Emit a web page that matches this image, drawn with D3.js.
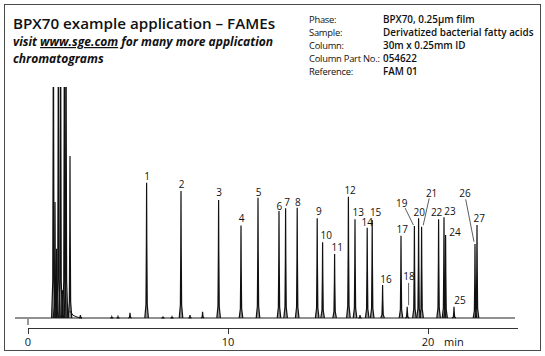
<!DOCTYPE html>
<html>
<head>
<meta charset="utf-8">
<script src="https://cdn.jsdelivr.net/npm/d3@7"></script>
<style>
  html, body { margin: 0; padding: 0; background: #fff; }
  svg { display: block; }
  text { font-family: "Open Sans", "DejaVu Sans", sans-serif; fill: #111; }
</style>
</head>
<body>
<svg id="chart" width="545" height="356"></svg>
<script>
// ---------------- DATA ----------------
const titleText = "BPX70 example application \u2013 FAMEs";
const infoLabels = ["Phase:", "Sample:", "Column:", "Column Part No.:", "Reference:"];
const infoValues = ["BPX70, 0.25\u00b5m film", "Derivatized bacterial fatty acids", "30m x 0.25mm ID", "054622", "FAM 01"];

// numbered peaks: retention time (min) and response (arbitrary units)
const peakNumbers = [1,2,3,4,5,6,7,8,9,10,11,12,13,14,15,16,17,18,19,20,21,22,23,24,25,26,27];
const peakTimes   = [5.93,7.65,9.53,10.65,11.50,12.55,12.88,13.46,14.46,14.73,15.33,16.02,16.35,16.96,17.21,17.73,18.65,18.96,19.32,19.53,19.68,20.53,20.80,20.88,21.30,22.35,22.45];
const peakHeights = [58.6,55.0,51.1,40.0,52.1,46.3,47.5,47.7,43.2,32.8,27.7,52.5,42.7,39.1,42.4,14.3,35.6,4.9,39.8,43.2,39.5,42.7,43.6,35.9,4.9,32.0,40.3];

// solvent front peaks (several off scale)
const solventTimes   = [1.27,1.35,1.43,1.52,1.63,1.72,1.82,1.90,2.10];
const solventHeights = [160,50.2,30,160,160,12,160,160,70.1];

// minor unlabelled peaks
const minorTimes   = [2.62,4.19,4.50,5.10,6.75,7.20,8.10,8.73,16.60];
const minorHeights = [1.3,0.5,0.6,2.3,0.4,0.5,1.3,2.7,1.3];

// axis
const axisTicks = [0, 10, 20];
const axisUnit = "min";
const traceStart = -0.65, traceEnd = 24.35, axisEnd = 24.5;

// ---------------- LAYOUT ----------------
const svg = d3.select("#chart");
const x = d3.scaleLinear().domain([0, 20]).range([28, 428]);
const y = d3.scaleLinear().domain([0, 100]).range([318, 87]);

// label offsets (px) relative to peak apex; leader = [x1,y1,x2,y2] offsets
const labelLayout = {
  1:{dx:0.6,dy:-3},2:{dx:0.7,dy:-3},3:{dx:0.6,dy:-4},4:{dx:0.7,dy:-4},5:{dx:0.7,dy:-1.5},
  6:{dx:0.3,dy:-1.5},7:{dx:1.6,dy:-2.5},8:{dx:0.7,dy:-2},9:{dx:1.7,dy:-3},10:{dx:3.6,dy:-3.3},
  11:{dx:2.6,dy:-3},12:{dx:1.7,dy:-2.7},13:{dx:3.3,dy:-3.3},14:{dx:0,dy:-1.7},15:{dx:3.4,dy:-4},
  16:{dx:3.3,dy:-2.3},17:{dx:1.3,dy:-3},18:{dx:1.7,dy:-26.7,lead:[1.4,-23.7,1.4,-1.5]},
  19:{dx:-12.6,dy:-18.7,lead:[-9.3,-18,-1,-1]},20:{dx:0.6,dy:-2.3},
  21:{dx:10,dy:-30,lead:[7.6,-28.4,1.6,-1.5]},22:{dx:-2,dy:-3.3},23:{dx:6,dy:-2.3},
  24:{dx:9.3,dy:0.7},25:{dx:6,dy:-2.7},26:{dx:-10,dy:-46.7,lead:[-9.3,-44.7,-1,-2.3]},27:{dx:2.3,dy:-3.3}
};

// ---------------- FRAME & HEADER ----------------
svg.append("rect").attr("x",4.5).attr("y",4.5).attr("width",536).attr("height",346)
  .attr("fill","none").attr("stroke","#4a4a4a").attr("stroke-width",1);

svg.append("text").attr("x",13).attr("y",29).attr("font-size",15.2).attr("font-weight",600)
  .text(titleText);

const sub = svg.append("text").attr("x",13).attr("y",46).attr("font-size",12.05)
  .attr("font-weight",700).attr("font-style","italic");
sub.append("tspan").text("visit ");
sub.append("tspan").attr("text-decoration","underline").text("www.sge.com");
sub.append("tspan").text(" for many more application");
svg.append("text").attr("x",13).attr("y",63).attr("font-size",12.05)
  .attr("font-weight",700).attr("font-style","italic").text("chromatograms");

const info = svg.append("g");
infoLabels.forEach((lab, i) => {
  info.append("text").attr("x",309).attr("y",23 + i*13).attr("font-size",9.4)
    .attr("letter-spacing",-0.25).text(lab);
  info.append("text").attr("x",383).attr("y",23 + i*13).attr("font-size",9.9)
    .attr("font-weight",600).text(infoValues[i]);
});

// ---------------- CHROMATOGRAM ----------------
svg.append("clipPath").attr("id","plotclip").append("rect")
  .attr("x",0).attr("y",87).attr("width",545).attr("height",250);
const plot = svg.append("g").attr("clip-path","url(#plotclip)");

const line = d3.line().x(d => x(d[0])).y(d => y(d[1]));

// baseline
plot.append("path").attr("d", line([[traceStart,0],[traceEnd,0]]))
  .attr("fill","none").attr("stroke","#222").attr("stroke-width",1);

function peakPath(t, h, w) {
  return line([[t-w,0],[t-w*0.35,h*0.1],[t-w*0.12,h*0.55],[t,h],[t+w*0.12,h*0.55],[t+w*0.35,h*0.1],[t+w,0]]);
}

const allPeaks = []
  .concat(solventTimes.map((t,i)=>({t, h:solventHeights[i], w:0.09})))
  .concat(minorTimes.map((t,i)=>({t, h:minorHeights[i], w:0.08})))
  .concat(peakTimes.map((t,i)=>({t, h:peakHeights[i], w:0.09})));

plot.selectAll("path.peak").data(allPeaks).join("path").attr("class","peak")
  .attr("d", d => peakPath(d.t, d.h, d.w))
  .attr("fill","#111").attr("fill-opacity",0.45)
  .attr("stroke","#111").attr("stroke-width",1.2).attr("stroke-linejoin","miter");

// solvent tail
plot.append("path").attr("d", line([[2.10,3],[2.25,1.2],[2.45,0.4],[2.7,0]]))
  .attr("fill","none").attr("stroke","#111").attr("stroke-width",1);

// labels
const labels = svg.append("g");
peakNumbers.forEach((n, i) => {
  const px = x(peakTimes[i]), py = y(peakHeights[i]);
  const L = labelLayout[n];
  labels.append("text").attr("x", px + L.dx).attr("y", py + L.dy)
    .attr("text-anchor","middle").attr("font-size",10).text(n);
  if (L.lead) {
    labels.append("line")
      .attr("x1", px + L.lead[0]).attr("y1", py + L.lead[1])
      .attr("x2", px + L.lead[2]).attr("y2", py + L.lead[3])
      .attr("stroke","#333").attr("stroke-width",0.8);
  }
});

// ---------------- AXIS ----------------
svg.append("line").attr("x1",x(0)).attr("x2",x(0)).attr("y1",319).attr("y2",325)
  .attr("stroke","#333").attr("stroke-width",1);
const ax = svg.append("g");
ax.append("line").attr("x1",x(0)).attr("x2",x(axisEnd)).attr("y1",328.5).attr("y2",328.5)
  .attr("stroke","#333").attr("stroke-width",1);
axisTicks.forEach(t => {
  ax.append("line").attr("x1",x(t)+0.5).attr("x2",x(t)+0.5).attr("y1",328.5).attr("y2",334)
    .attr("stroke","#333").attr("stroke-width",1);
  ax.append("text").attr("x",x(t)).attr("y",346).attr("text-anchor","middle")
    .attr("font-size",11).text(t);
});
ax.append("text").attr("x",x(20)+16).attr("y",346).attr("font-size",11).text(axisUnit);
</script>
</body>
</html>
